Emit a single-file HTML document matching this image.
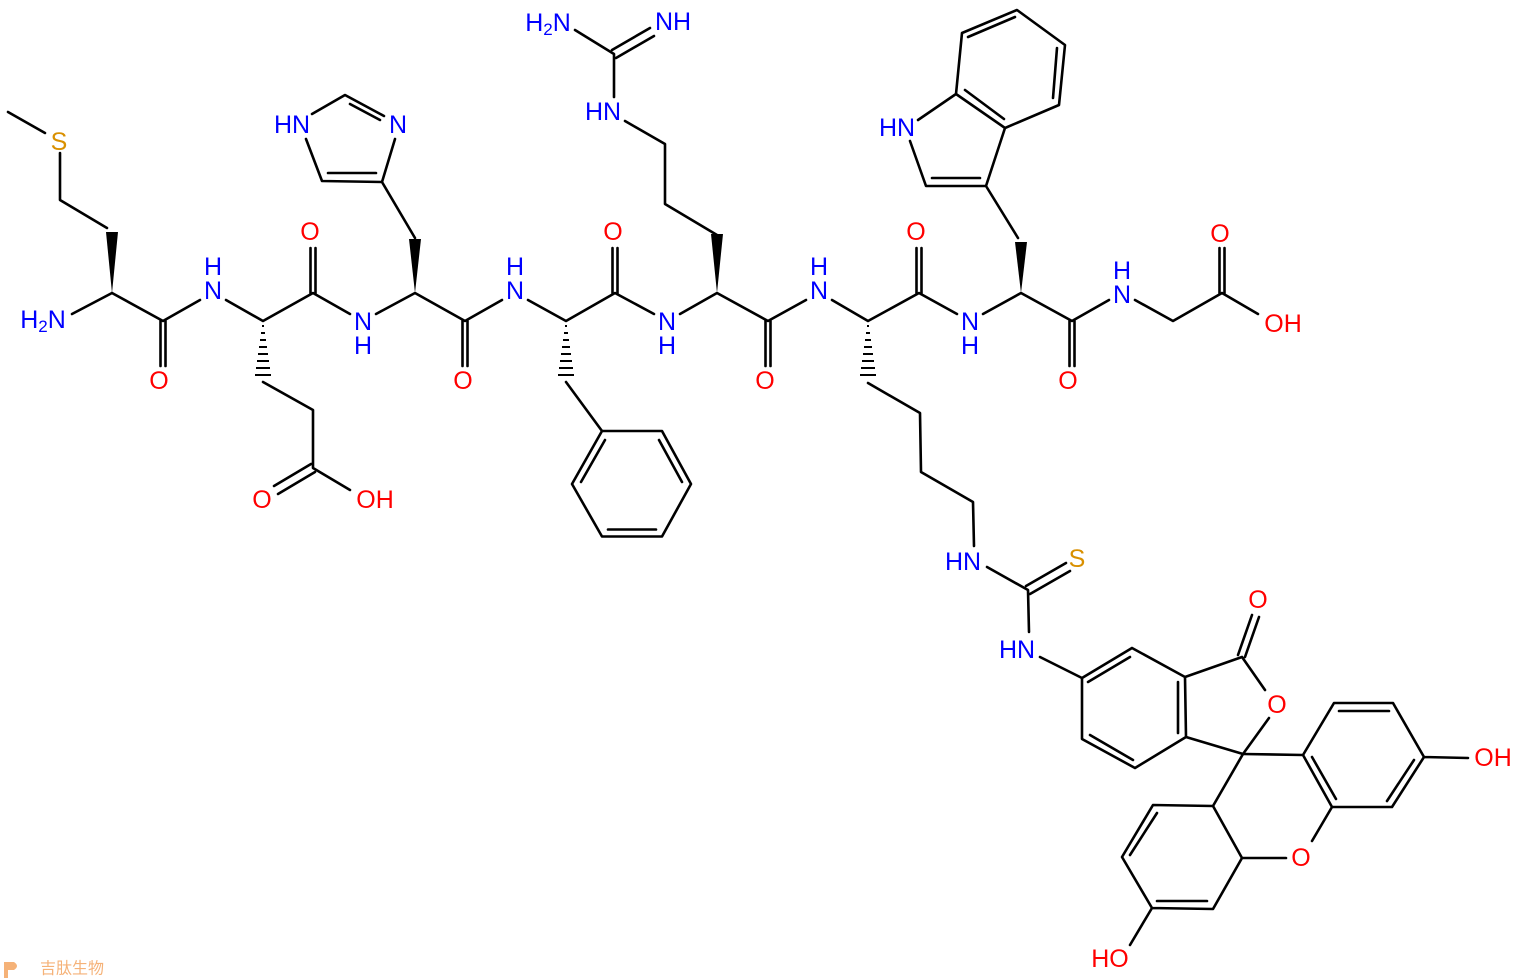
<!DOCTYPE html>
<html><head><meta charset="utf-8"><style>
html,body{margin:0;padding:0;background:#fff;}
svg{display:block;}
text{font-family:"Liberation Sans",Arial,sans-serif;font-size:25px;text-anchor:middle;dominant-baseline:central;}
.b{fill:#0000ff}.r{fill:#ff0000}.s{fill:#d99000}
</style></head><body>
<svg width="1524" height="980" viewBox="0 0 1524 980" xmlns="http://www.w3.org/2000/svg">
<g stroke="#000" stroke-width="2.6" fill="none" stroke-linecap="round" stroke-linejoin="round">
<path d="M8 112L45 133M60 153L60 200L107 228M112 293L72 314M112 293L163 321L200 300M226 300L263 321L313 293L350 314M376 314L415 293L465 321L502 300M528 300L566 321L615 293L654 314M680 314L717 293L768 321L806 300M832 300L868 321L919 293L957 314M983 314L1021 293L1072 321L1109 300M1135 300L1173 321L1222 293L1258 314"/>
<path d="M160.5 321V366M165.5 321V366M462.5 321V366M467.5 321V366M765.5 321V366M770.5 321V366M1069.5 321V366M1074.5 321V366"/>
<path d="M310.5 293V248M315.5 293V248M612.5 293V248M617.5 293V248M916.5 293V248M921.5 293V248M1219.5 293V248M1224.5 293V248"/>
<path d="M263 382L313 410L313 468L350 490M311 464L274 486M315 472L278 494"/>
<path d="M415 238L382 182L395 139M382 182L322 181L306 139M328 173L376 173M312 114L345 95L384 116M350 104L380 120"/>
<path d="M566 382L602 431"/>
<path d="M602 431L662 431L691 484L662 536.5L602 536.5L572 484Z"/>
<path d="M605 440L581 482M659 440L682 482M656 529.5L608 529.5"/>
<path d="M717 235L665 204L665 144L625 121M614 97L614 54L575 30M612 50L650 28M616 58L654 36"/>
<path d="M868 383L920 413L921 472L973 502L974 546"/>
<path d="M987 567L1028 590L1029 632M1040 657L1082 678M1026 586L1066 563M1030 594L1070 571"/>
<path d="M1018 238L986 186L926 186L910 141M918 120L956 94L1005 128L986 186M932 178L980 178M965 90L1004 119M956 94L962 33L1017 10L1065 45L1059 105L1005 128M968 37L1015 17M1057 48L1053 98"/>
<path d="M1082 678L1132 648L1185 677L1186 737L1135 768L1082 739Z"/>
<path d="M1088 682L1130 657M1178 682L1178 733M1090 735L1133 760"/>
<path d="M1185 677L1242 657L1265 690M1269 718L1243 754L1186 737M1238 655L1252 615M1245 657L1259 617"/>
<path d="M1243 754L1213 806L1153 805L1122 857L1152 908L1213 909L1242 858L1213 806M1157 813L1130 855M1157 901L1207 901M1242 858L1286 858M1152 908L1130 945"/>
<path d="M1243 754L1303 755L1334 703L1393 703L1424 757L1392 807L1332 807L1303 755M1339 711L1389 711M1414 760L1387 801M1312 757L1336 799M1332 807L1312 841M1424 757L1468 758"/>
</g>
<g fill="#000">
<polygon points="112,293 106,232 118,232"/>
<polygon points="415,293 409,239 421,239"/>
<polygon points="717,293 711,234 723,234"/>
<polygon points="1021,293 1015,242 1027,242"/>
</g>
<g stroke="#000" stroke-width="2">
<path d="M262 326h2M261 333h4M260 340h6M259 347h8M258 354h10M257 361h12M256 368h14M255 375h16"/>
<path d="M565 326h2M564 333h4M563 340h6M562 347h8M561 354h10M560 361h12M559 368h14M558 375h16"/>
<path d="M867 326h2M866 333h4M865 340h6M864 347h8M863 354h10M862 361h12M861 368h14M860 375h16"/>
</g>
<text x="59" y="142" class="s">S</text>
<text x="43" y="320" class="b">H<tspan font-size="17" dy="6">2</tspan><tspan dy="-6">N</tspan></text>
<text x="159" y="381" class="r">O</text>
<text x="213" y="291" class="b">N</text><text x="213" y="267" class="b">H</text>
<text x="310" y="232" class="r">O</text>
<text x="363" y="322" class="b">N</text><text x="363" y="346" class="b">H</text>
<text x="262" y="500" class="r">O</text><text x="375" y="500" class="r">OH</text>
<text x="292" y="125" class="b">HN</text><text x="398" y="125" class="b">N</text>
<text x="463" y="381" class="r">O</text>
<text x="515" y="291" class="b">N</text><text x="515" y="267" class="b">H</text>
<text x="613" y="232" class="r">O</text>
<text x="667" y="322" class="b">N</text><text x="667" y="346" class="b">H</text>
<text x="603" y="112" class="b">HN</text>
<text x="548" y="23" class="b">H<tspan font-size="17" dy="6">2</tspan><tspan dy="-6">N</tspan></text>
<text x="673" y="22" class="b">NH</text>
<text x="765" y="381" class="r">O</text>
<text x="819" y="291" class="b">N</text><text x="819" y="267" class="b">H</text>
<text x="916" y="232" class="r">O</text>
<text x="970" y="322" class="b">N</text><text x="970" y="346" class="b">H</text>
<text x="963" y="562" class="b">HN</text><text x="1077" y="559" class="s">S</text>
<text x="1017" y="650" class="b">HN</text>
<text x="897" y="128" class="b">HN</text>
<text x="1068" y="381" class="r">O</text>
<text x="1122" y="295" class="b">N</text><text x="1122" y="271" class="b">H</text>
<text x="1220" y="234" class="r">O</text><text x="1283" y="324" class="r">OH</text>
<text x="1258" y="600" class="r">O</text>
<text x="1277" y="705" class="r">O</text>
<text x="1301" y="858" class="r">O</text>
<text x="1493" y="758" class="r">OH</text>
<text x="1110" y="959" class="r">HO</text>
<g opacity="0.6">
<path d="M4 962 L14 962 Q20 966 14 970 L8 970 L8 978 L4 978Z" fill="#f08020"/>
<text x="72" y="969" style="font-size:16px;fill:#f08020;font-family:'Liberation Sans','Noto Sans CJK SC',sans-serif">吉肽生物</text>
</g>
</svg>
</body></html>
